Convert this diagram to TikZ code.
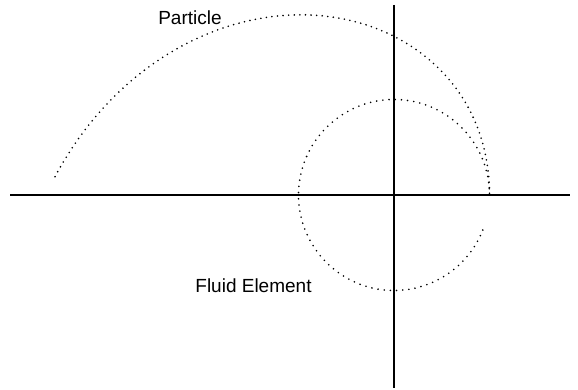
\documentclass[tikz,border=0pt]{standalone}
\usepackage{fontspec}
\setmainfont{Liberation Sans}
\begin{document}
\begin{tikzpicture}[x=1pt,y=1pt,
  dotpath/.style={line width=1.8pt, line cap=round, dash pattern=on 0pt off 5.6pt},
  lbl/.style={font=\fontsize{19}{22}\selectfont, inner sep=0pt}]
\useasboundingbox (0,0) rectangle (578,390);
\coordinate (C) at (394,195);
\coordinate (hL) at (10,195);
\coordinate (hR) at (570,195);
\coordinate (vT) at (394,385);
\coordinate (vB) at (394,2);
\draw[line width=1.8pt] (hL) -- (hR);
\draw[line width=1.3pt] (vT) -- (vB);
% fluid element circle
\draw[dotpath, dash pattern=on 0pt off 6.2pt] (C) ++(0:95.5) arc[start angle=0, end angle=341, radius=95.5];
% particle path (spiral)
\draw[dotpath] plot[domain=1:177.5, samples=120] ({394+(95.5+0.0078*\x*\x)*cos(\x)}, {195+(95.5+0.0078*\x*\x)*sin(\x)});
\node[lbl] (particle) at (190,372.5) {Particle};
\node[lbl] (fluid) at (253.5,104.5) {Fluid Element};
\end{tikzpicture}
\end{document}
